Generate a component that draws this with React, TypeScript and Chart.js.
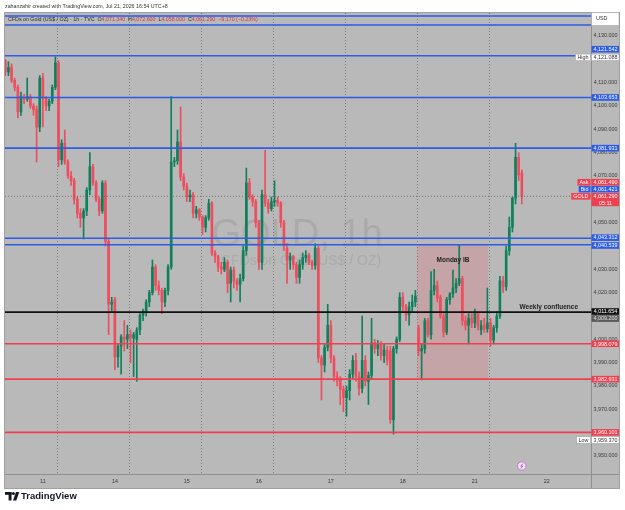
import React, { useEffect, useRef } from 'react';
import { Chart, registerables } from 'chart.js';
Chart.register(...registerables);

// ---------- data (hourly candles, GOLD 1h) ----------
const opens = [
  4119.5, 4114.6, 4116.5, 4111, 4108, 4097.5, 4104, 4103, 4104, 4100,
  4098.5, 4091, 4112, 4103.5, 4100, 4102, 4108, 4118.5, 4077, 4084,
  4076, 4070, 4068, 4060, 4054, 4052, 4055, 4064, 4074, 4067,
  4060, 4055, 4067, 4042, 4015, 4017, 3992.5, 3997, 4001, 4000,
  4002, 4000.5, 4000, 4004, 4010.4, 4012, 4016, 4020, 4031, 4023,
  4021, 4016, 4021, 4031, 4076, 4076.5, 4084.6, 4069.6, 4065.5, 4061,
  4062, 4054, 4055.5, 4052.5, 4048, 4052, 4058.4, 4037, 4035.5, 4031,
  4030, 4033, 4024, 4029.7, 4025, 4023.5, 4026, 4038, 4067, 4061,
  4059, 4050, 4033, 4062, 4058.4, 4056, 4059, 4059.5, 4058.5, 4050,
  4039, 4034, 4035.5, 4032, 4026.5, 4032, 4035, 4036, 4033, 4031.8,
  4039, 3992, 3989, 3996.5, 4006, 3992, 3984, 3982.5, 3978.5, 3975,
  3978, 3985, 3991, 3984, 3979, 3991, 3982, 3984.5, 3998.5, 3996,
  3998, 3993, 3995.4, 3995, 3965.5, 3996, 4000, 4018, 4014, 4010.5,
  4014, 4016, 4005, 3995, 3996, 4008, 4002, 4021, 4023, 4018,
  4010, 4003, 4017, 4019.5, 4022, 4024, 4026, 4008, 4006, 4009,
  4007, 4011, 4004, 4006, 4004.5, 4007, 3999.7, 4005, 4010, 4025,
  4022.5, 4038, 4048, 4060.5, 4078, 4071.34,
];
const highs = [
  4120, 4119, 4118, 4112, 4109, 4106, 4105, 4112, 4105, 4101,
  4100, 4113, 4114, 4104, 4103, 4109, 4121.088, 4119.5, 4085.5, 4089.7,
  4077, 4072, 4069, 4061, 4056, 4056, 4065, 4080, 4075, 4068,
  4061, 4068, 4068, 4043, 4018, 4018, 3998, 4002, 4008, 4006,
  4004, 4003, 4005, 4011, 4013, 4017, 4021, 4034, 4032, 4025,
  4022, 4022, 4032, 4104, 4078, 4089.7, 4099.6, 4071, 4067, 4064,
  4063, 4057, 4056, 4053, 4053, 4060, 4059, 4038, 4036, 4033,
  4035, 4034, 4031, 4031, 4026, 4028, 4040, 4073.4, 4069, 4062,
  4060, 4051, 4064, 4081, 4060, 4061, 4068, 4061, 4059, 4051,
  4041, 4037, 4036, 4033, 4034, 4037, 4038, 4037, 4034, 4041,
  4040, 3993, 3998, 4015, 4008, 3993, 3986, 3984, 3980, 3980,
  3987, 3993, 3994, 3986, 4010, 3993, 3986, 4009, 4000, 3999.5,
  3999, 3998, 3997, 3997, 3997, 4001, 4020, 4020, 4015, 4016,
  4019, 4021, 4006, 3998, 4009, 4009, 4029, 4030, 4025, 4019,
  4011, 4018, 4020, 4029.7, 4026, 4040.4, 4027, 4010, 4011, 4011,
  4013, 4012, 4008, 4009, 4022, 4009, 4006, 4012, 4027, 4027,
  4040, 4052.4, 4061, 4084, 4080, 4072.6,
];
const lows = [
  4113, 4113, 4110, 4106.5, 4095, 4096, 4101, 4102, 4099, 4096,
  4076, 4089, 4091, 4098, 4098, 4101, 4107, 4074, 4075, 4075,
  4069, 4066, 4058, 4052, 4048, 4043, 4053, 4062, 4066, 4059,
  4053, 4054, 4040, 4002, 4012, 3987, 3988, 3985, 3995, 3996,
  3990, 3984, 3982, 4002, 4008, 4010, 4014, 4019, 4021, 4019,
  4011, 4014, 4019, 4030, 4074, 4075, 4068, 4064, 4059, 4059,
  4052, 4052, 4051, 4045, 4046, 4051, 4036, 4033, 4029, 4028,
  4029, 4020, 4016, 4022, 4021, 4016, 4025, 4036, 4060, 4057,
  4048, 4030, 4030, 4057, 4054, 4055, 4057, 4057, 4048, 4038,
  4024, 4030, 4030, 4024, 4024, 4030, 4033, 4032, 4030, 4030,
  3990, 3974, 3986, 3995, 3990, 3982, 3980, 3972, 3969, 3967,
  3974, 3983, 3982, 3976, 3977, 3980, 3972, 3983, 3994, 3993,
  3991, 3990, 3989, 3964, 3959.37, 3994, 3999, 4012, 4008, 4006,
  4012, 4014, 3993, 3982.6, 3994, 4001, 4000, 4019, 4016, 4009,
  4001, 4002, 4015, 4018, 4020, 4023, 4006, 4004, 3998, 4005,
  4005, 4004, 4002, 4003, 4003, 3997, 3998, 4003, 4009, 4020,
  4021, 4036, 4046, 4058, 4068, 4058,
];
const closes = [
  4114.6, 4116.5, 4111, 4108, 4097.5, 4104, 4103, 4104, 4100, 4098.5,
  4091, 4112, 4103.5, 4100, 4102, 4108, 4118.5, 4077, 4084, 4076,
  4070, 4068, 4060, 4054, 4052, 4055, 4064, 4074, 4067, 4060,
  4055, 4067, 4042, 4015, 4016, 3992.5, 3997, 4001, 4000, 4002,
  4000.5, 4002, 4004, 4010.4, 4012, 4016, 4020, 4031, 4023, 4021,
  4016, 4021, 4031, 4076, 4076.5, 4084.6, 4069.6, 4065.5, 4061, 4061.8,
  4054, 4055.5, 4052.5, 4048, 4052, 4058.4, 4037, 4035.5, 4031, 4030,
  4033, 4024, 4029.7, 4025, 4023.5, 4026, 4038, 4067, 4061, 4059,
  4050, 4033, 4062, 4058.4, 4056, 4059, 4059.5, 4058.5, 4050, 4040,
  4034, 4035.5, 4032, 4026.5, 4032, 4035, 4036, 4033, 4031.8, 4039,
  3992, 3989, 3996.5, 4006, 3992, 3984, 3982.5, 3978.5, 3975, 3978,
  3985, 3991, 3984, 3979, 3991, 3982, 3984.5, 3998.5, 3996, 3998,
  3993, 3995.4, 3991, 3965.5, 3996, 4000, 4018, 4014, 4010.5, 4014,
  4016, 4018.5, 3995, 3996, 4008, 4002, 4021, 4023, 4018, 4010,
  4003, 4017, 4019.5, 4022, 4024, 4026, 4008, 4006, 4009, 4007,
  4011, 4006, 4006, 4004.5, 4007, 3999.7, 4005, 4010, 4025, 4022.5,
  4038, 4048, 4060.5, 4078, 4070.46, 4061.29,
];

const dayLabels = ['11', '14', '15', '16', '17', '18', '21', '22'];
const dayLabelIndex = [12, 35, 58, 81, 104, 127, 150, 173];
const sessionBreaks = [16.5, 39.5, 62.5, 85.5, 108.5, 131.5, 154.5];
const priceTicks = [4130, 4120, 4110, 4100, 4090, 4080, 4070, 4060, 4050, 4040, 4030, 4020, 4010, 4000, 3990, 3980, 3970, 3960, 3950];
const blueLevels = [4138.6, 4134.7, 4121.542, 4103.653, 4081.931, 4043.312, 4040.539];
const redLevels = [3998.079, 3982.931, 3960.101];
const confluenceLevel = 4011.654;
const hiddenLevel = 4009.2;
const askPrice = 4061.49;
const bidPrice = 4061.421;
const ibRange = [132, 154];
const xRange = [-0.1, 187.1];
const yRange = [3942.26, 4139.86];
const eventIndex = 165;

// ---------- styles ----------
const FONT = '"Liberation Sans", Arial, sans-serif';
const BG = '#b9b9b9';
const UP = '#10805c';
const DOWN = '#ee4d5d';
const BLUE = '#2d5ce6';
const REDL = '#f0404f';

const fmt = (v: number) => v.toLocaleString('en-US', { minimumFractionDigits: 3, maximumFractionDigits: 3 });

const tvPlugin = {
  id: 'tvdecor',
  beforeDraw(chart: any) {
    const { ctx, chartArea: ca } = chart;
    const xs = chart.scales.x, ys = chart.scales.y;
    ctx.save();
    ctx.fillStyle = '#ffffff';
    ctx.fillRect(0, 0, chart.width, chart.height);
    ctx.fillStyle = BG;
    ctx.fillRect(4, 12, 616, 477);

    // watermark
    ctx.fillStyle = 'rgba(120,120,120,0.22)';
    ctx.textAlign = 'center';
    ctx.textBaseline = 'alphabetic';
    ctx.font = `38px ${FONT}`;
    ctx.fillText('GOLD, 1h', 297, 246);
    ctx.font = `14px ${FONT}`;
    ctx.fillText('CFDs on Gold (US$ / OZ)', 301, 265);

    // session grid
    ctx.strokeStyle = 'rgba(105,105,105,0.75)';
    ctx.lineWidth = 1;
    ctx.setLineDash([1, 2]);
    sessionBreaks.forEach((b) => {
      const px = Math.round(xs.getPixelForValue(b)) + 0.5;
      ctx.beginPath();
      ctx.moveTo(px, ca.top);
      ctx.lineTo(px, ca.bottom);
      ctx.stroke();
    });
    ctx.setLineDash([]);

    // Monday IB box
    const [s, e] = ibRange;
    let hi = -Infinity, lo = Infinity;
    for (let i = s; i <= e; i++) { hi = Math.max(hi, highs[i]); lo = Math.min(lo, lows[i]); }
    const bx0 = xs.getPixelForValue(s) - 1.5, bx1 = xs.getPixelForValue(e) + 0.5;
    const by0 = ys.getPixelForValue(hi), by1 = ys.getPixelForValue(lo);
    ctx.fillStyle = 'rgba(242,80,95,0.2)';
    ctx.fillRect(bx0, by0, bx1 - bx0, by1 - by0);
    ctx.restore();
  },
  afterDatasetsDraw(chart: any) {
    const { ctx, chartArea: ca } = chart;
    const xs = chart.scales.x, ys = chart.scales.y;
    ctx.save();
    const hline = (v: number, color: string, w: number, dash: number[] = []) => {
      const py = ys.getPixelForValue(v);
      ctx.strokeStyle = color; ctx.lineWidth = w; ctx.setLineDash(dash);
      ctx.beginPath(); ctx.moveTo(ca.left, py); ctx.lineTo(ca.right, py); ctx.stroke();
      ctx.setLineDash([]);
    };
    hline(closes[closes.length - 1], 'rgba(95,95,95,0.8)', 1, [1, 2]);
    blueLevels.forEach((v) => hline(v, BLUE, 1.6));
    redLevels.forEach((v) => hline(v, REDL, 1.6));
    hline(confluenceLevel, '#111111', 1.6);

    // annotations
    ctx.fillStyle = '#1e1e1e';
    ctx.font = `bold 6.5px ${FONT}`;
    ctx.textBaseline = 'middle';
    ctx.textAlign = 'center';
    const [s, e] = ibRange;
    let hi = -Infinity;
    for (let i = s; i <= e; i++) hi = Math.max(hi, highs[i]);
    ctx.fillText('Monday IB', (xs.getPixelForValue(s) + xs.getPixelForValue(e)) / 2, ys.getPixelForValue(hi) + 15);
    ctx.textAlign = 'right';
    ctx.fillText('Weekly confluence', 578, ys.getPixelForValue(confluenceLevel) - 5);

    // event marker
    const ex = xs.getPixelForValue(eventIndex);
    ctx.beginPath(); ctx.arc(ex, 466, 4.2, 0, Math.PI * 2);
    ctx.fillStyle = '#f4e4f6'; ctx.fill();
    ctx.strokeStyle = '#c57ad0'; ctx.lineWidth = 1; ctx.stroke();
    ctx.beginPath(); ctx.moveTo(ex + 1, 463.5); ctx.lineTo(ex - 1, 466.3); ctx.lineTo(ex + 1, 466); ctx.lineTo(ex - 1, 468.6);
    ctx.strokeStyle = '#a04aae'; ctx.lineWidth = 0.8; ctx.stroke();

    // axis separators
    ctx.strokeStyle = '#8f8f8f'; ctx.lineWidth = 1;
    ctx.beginPath(); ctx.moveTo(Math.round(ca.right) + 0.5, 12); ctx.lineTo(Math.round(ca.right) + 0.5, 489); ctx.stroke();
    ctx.beginPath(); ctx.moveTo(4, Math.round(ca.bottom) + 0.5); ctx.lineTo(620, Math.round(ca.bottom) + 0.5); ctx.stroke();
    ctx.strokeStyle = '#a0a0a0';
    ctx.strokeRect(4.5, 12.5, 615, 476);

    // price ticks
    const axX = ca.right + 14.5;
    ctx.font = `5.4px ${FONT}`;
    ctx.textAlign = 'center';
    ctx.fillStyle = '#3a3a3a';
    priceTicks.forEach((t) => ctx.fillText(fmt(t), axX, ys.getPixelForValue(t)));

    // price marks
    const boxH = 6.6;
    const mark = (v: number, bg: string, fg: string, dy = 0, tag?: string, sub?: string) => {
      const cy = ys.getPixelForValue(v) + dy;
      const top = cy - boxH / 2;
      const h = sub ? boxH * 2 : boxH;
      ctx.fillStyle = bg;
      ctx.fillRect(ca.right + 0.5, top, 27.5, h);
      if (bg === '#ffffff') { ctx.strokeStyle = '#9a9a9a'; ctx.lineWidth = 0.5; ctx.strokeRect(ca.right + 0.5, top, 27.5, h); }
      ctx.fillStyle = fg;
      ctx.font = `5.4px ${FONT}`;
      ctx.textAlign = 'center';
      ctx.fillText(fmt(v), axX, cy + 0.3);
      if (sub) ctx.fillText(sub, axX, cy + boxH + 0.3);
      if (tag) {
        const w = ctx.measureText(tag).width + 4;
        ctx.fillStyle = bg;
        ctx.fillRect(ca.right - w - 0.5, top, w, boxH);
        if (bg === '#ffffff') { ctx.strokeStyle = '#9a9a9a'; ctx.lineWidth = 0.5; ctx.strokeRect(ca.right - w - 0.5, top, w, boxH); }
        ctx.fillStyle = fg;
        ctx.fillText(tag, ca.right - w / 2 - 0.5, cy + 0.3);
      }
    };
    let hiAll = -Infinity, loAll = Infinity;
    highs.forEach((h) => (hiAll = Math.max(hiAll, h)));
    lows.forEach((l) => (loAll = Math.min(loAll, l)));
    mark(blueLevels[2], BLUE, '#ffffff', -6.5);
    mark(hiAll, '#ffffff', '#333333', 0.6, 'High');
    mark(blueLevels[3], BLUE, '#ffffff');
    mark(blueLevels[4], BLUE, '#ffffff');
    mark(askPrice, REDL, '#ffffff', -13.6, 'Ask');
    mark(bidPrice, BLUE, '#ffffff', -6.8, 'Bid');
    mark(closes[closes.length - 1], REDL, '#ffffff', 0, 'GOLD', '05:11');
    mark(blueLevels[5], BLUE, '#ffffff', -0.6);
    mark(blueLevels[6], BLUE, '#ffffff', 0.8);
    mark(confluenceLevel, '#111111', '#ffffff', -0.6);
    mark(hiddenLevel, '#5c5c5c', '#e0e0e0', 0.8);
    redLevels.forEach((v) => mark(v, REDL, '#ffffff'));
    mark(loAll, '#ffffff', '#333333', 6, 'Low');

    // USD box
    ctx.fillStyle = '#ffffff';
    ctx.fillRect(ca.right + 0.5, 12.5, 27.5, 13);
    ctx.strokeStyle = '#9a9a9a'; ctx.lineWidth = 0.5;
    ctx.strokeRect(ca.right + 0.5, 12.5, 27.5, 13);
    ctx.fillStyle = '#333333';
    ctx.textAlign = 'left';
    ctx.fillText('USD', ca.right + 5, 19);

    // time labels
    ctx.textAlign = 'center';
    ctx.fillStyle = '#333333';
    dayLabels.forEach((d, k) => ctx.fillText(d, xs.getPixelForValue(dayLabelIndex[k]), ca.bottom + 7.5));

    // header legend
    const n = closes.length - 1;
    const chg = closes[n] - closes[n - 1];
    const pct = (chg / closes[n - 1]) * 100;
    const minus = (v: number) => (v < 0 ? '\u2212' : '+') + Math.abs(v).toFixed(3);
    const segs: [string, string][] = [
      ['CFDs on Gold (US$ / OZ) \u00b7 1h \u00b7 TVC  ', '#2a2a2a'],
      ['O', '#2a2a2a'], [fmt(opens[n]) + '  ', '#d9303f'],
      ['H', '#2a2a2a'], [fmt(highs[n]) + '  ', '#d9303f'],
      ['L', '#2a2a2a'], [fmt(lows[n]) + '  ', '#d9303f'],
      ['C', '#2a2a2a'], [fmt(closes[n]) + '  ', '#d9303f'],
      [minus(chg) + ' (' + (pct < 0 ? '\u2212' : '+') + Math.abs(pct).toFixed(2) + '%)', '#d9303f'],
    ];
    ctx.font = `5.3px ${FONT}`;
    ctx.textAlign = 'left';
    let hx = 8;
    segs.forEach(([t, c]) => { ctx.fillStyle = c; ctx.fillText(t, hx, 20); hx += ctx.measureText(t).width; });

    // top credit
    ctx.fillStyle = '#333333';
    ctx.font = `5.3px ${FONT}`;
    ctx.fillText('zahanzahir created with TradingView.com, Jul 21, 2026 16:54 UTC+8', 5, 6.5);

    // logo
    ctx.fillStyle = '#131722';
    ctx.fillRect(5, 492, 6.5, 2.8);
    ctx.fillRect(8.6, 492, 2.9, 8.5);
    ctx.beginPath(); ctx.arc(13.4, 493.5, 1.5, 0, Math.PI * 2); ctx.fill();
    ctx.beginPath(); ctx.moveTo(16, 492); ctx.lineTo(19.3, 492); ctx.lineTo(16.3, 500.5); ctx.lineTo(13, 500.5); ctx.closePath(); ctx.fill();
    ctx.font = `bold 9.5px ${FONT}`;
    ctx.textBaseline = 'middle';
    ctx.fillText('TradingView', 21, 496.5);
    ctx.restore();
  },
};

export default function App() {
  const ref = useRef<HTMLCanvasElement | null>(null);
  useEffect(() => {
    if (!ref.current) return;
    const idx = closes.map((_, i) => i);
    const colors = idx.map((i) => (closes[i] >= opens[i] ? UP : DOWN));
    const chart = new Chart(ref.current, {
      type: 'bar',
      data: {
        datasets: [
          {
            label: 'body',
            data: idx.map((i) => ({ x: i, y: [opens[i], closes[i]] })) as any,
            backgroundColor: colors,
            barThickness: 2,
            minBarLength: 1,
            grouped: false,
            borderWidth: 0,
          } as any,
          {
            label: 'wick',
            data: idx.map((i) => ({ x: i, y: [lows[i], highs[i]] })) as any,
            backgroundColor: colors,
            barThickness: 1,
            grouped: false,
            borderWidth: 0,
          } as any,
        ],
      },
      options: {
        responsive: false,
        animation: false,
        devicePixelRatio: 1,
        events: [],
        layout: { padding: { left: 5, right: 34, top: 13, bottom: 36 } },
        plugins: { legend: { display: false }, tooltip: { enabled: false } },
        scales: {
          x: { type: 'linear', display: false, min: xRange[0], max: xRange[1], offset: false },
          y: { type: 'linear', display: false, min: yRange[0], max: yRange[1] },
        },
      } as any,
      plugins: [tvPlugin],
    });
    return () => chart.destroy();
  }, []);
  return (
    <canvas
      ref={ref}
      width={625}
      height={510}
      style={{ position: 'fixed', left: 0, top: 0, width: 625, height: 510 }}
    />
  );
}
